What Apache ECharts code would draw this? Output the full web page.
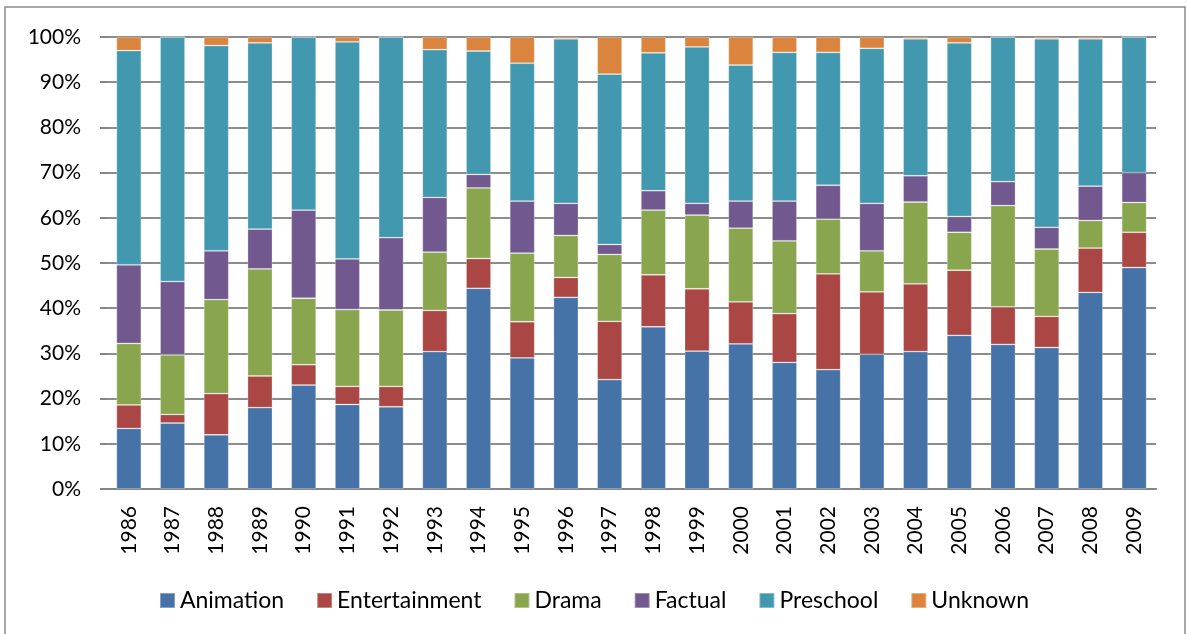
<!DOCTYPE html>
<html>
<head>
<meta charset="utf-8">
<script src="https://cdn.jsdelivr.net/npm/echarts@6/dist/echarts.min.js"></script>
<style>
  html, body { margin: 0; padding: 0; background: #fff; }
  #chart { width: 1188px; height: 634px; }
</style>
</head>
<body>
<div id="chart"></div>
<script>
const years = ['1986', '1987', '1988', '1989', '1990', '1991', '1992', '1993', '1994', '1995', '1996', '1997',
    '1998', '1999', '2000', '2001', '2002', '2003', '2004', '2005', '2006', '2007', '2008', '2009'];

// share of output per genre (%)
const animation = [13.4, 14.6, 12.0, 18.0, 23.0, 18.7, 18.2, 30.4, 44.4, 29.0, 42.4, 24.2,
    35.9, 30.5, 32.1, 28.0, 26.4, 29.8, 30.4, 34.0, 32.0, 31.3, 43.5, 49.0];
const entertainment = [5.2, 1.9, 9.1, 7.0, 4.5, 4.0, 4.5, 9.1, 6.6, 8.0, 4.4, 12.9,
    11.5, 13.8, 9.3, 10.8, 21.2, 13.8, 15.0, 14.4, 8.3, 6.9, 9.8, 7.8];
const drama = [13.6, 13.2, 20.8, 23.7, 14.7, 17.0, 16.9, 12.9, 15.6, 15.2, 9.3, 14.8,
    14.3, 16.3, 16.3, 16.1, 12.1, 9.1, 18.1, 8.4, 22.4, 14.9, 6.1, 6.6];
const factual = [17.4, 16.2, 10.8, 8.8, 19.5, 11.2, 16.0, 12.1, 3.0, 11.5, 7.1, 2.2,
    4.3, 2.6, 6.0, 8.8, 7.5, 10.5, 5.8, 3.5, 5.3, 4.8, 7.6, 6.6];
const preschool = [47.4, 54.1, 45.4, 41.2, 38.3, 48.0, 44.4, 32.7, 27.3, 30.5, 36.4, 37.7,
    30.5, 34.6, 30.1, 32.9, 29.4, 34.3, 30.3, 38.4, 32.0, 41.7, 32.6, 30.0];
const unknown = [3.0, 0, 1.9, 1.3, 0, 1.1, 0, 2.8, 3.1, 5.8, 0.4, 8.2,
    3.5, 2.2, 6.2, 3.4, 3.4, 2.5, 0.4, 1.3, 0, 0.4, 0.4, 0];

const seriesNames = ['Animation', 'Entertainment', 'Drama', 'Factual', 'Preschool', 'Unknown'];
const seriesColors = ['#4572A7', '#AA4643', '#89A54E', '#71588F', '#4198AF', '#DB843D'];
const seriesData = [animation, entertainment, drama, factual, preschool, unknown];

const chart = echarts.init(document.getElementById('chart'), null, { renderer: 'canvas' });

const option = {
    animation: false,
    textStyle: { fontFamily: 'Lato, "Open Sans", sans-serif', color: '#000' },
    graphic: [{
        type: 'rect',
        shape: { x: 5, y: 7, width: 1180, height: 640 },
        style: { fill: 'none', stroke: '#8a8a8a', lineWidth: 1.5 },
        silent: true
    }],
    grid: { left: 107, right: 32, top: 37, bottom: 145, containLabel: false },
    legend: {
        bottom: 17,
        left: 'center',
        itemWidth: 15,
        itemHeight: 15,
        itemGap: 32,
        icon: 'rect',
        textStyle: { fontSize: 23, color: '#000', fontFamily: 'Lato, "Open Sans", sans-serif' },
        data: seriesNames
    },
    xAxis: {
        type: 'category',
        data: years,
        axisLine: { lineStyle: { color: '#868686', width: 2 } },
        axisTick: { show: false },
        axisLabel: { rotate: 90, fontSize: 21, color: '#000', margin: 17, interval: 0 }
    },
    yAxis: {
        type: 'value',
        min: 0,
        max: 100,
        interval: 10,
        axisLine: { show: false },
        axisTick: { show: true, length: 7, lineStyle: { color: '#868686', width: 2 } },
        axisLabel: { formatter: '{value}%', fontSize: 21, color: '#000', margin: 26 },
        splitLine: { lineStyle: { color: '#8c8c8c', width: 2 } }
    },
    series: seriesNames.map((name, i) => ({
        name: name,
        type: 'bar',
        stack: 'total',
        barWidth: '57%',
        data: seriesData[i],
        itemStyle: { color: seriesColors[i], borderColor: 'rgba(255,255,255,0.35)', borderWidth: 0.8 }
    }))
};

chart.setOption(option);
</script>
</body>
</html>
